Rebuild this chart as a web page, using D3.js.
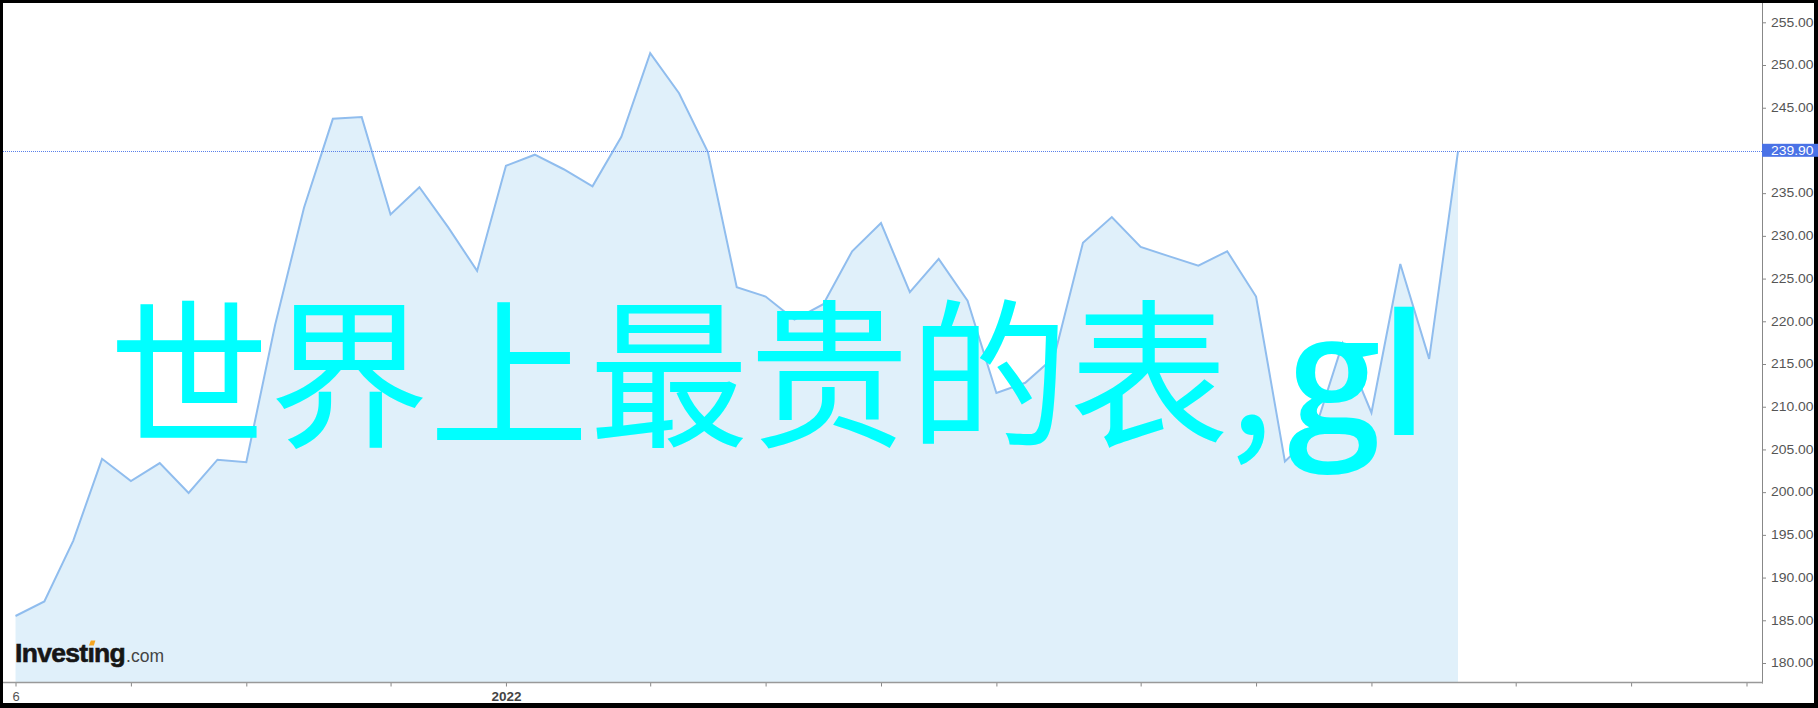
<!DOCTYPE html>
<html><head><meta charset="utf-8">
<script src="https://cdn.jsdelivr.net/npm/d3@7/dist/d3.min.js"></script>
<style>html,body{margin:0;padding:0;background:#000;overflow:hidden;} svg{display:block;}</style>
</head><body>
<script>
// ---- data (weekly closes, index 0..50) ----
const weekIndex = d3.range(51);
const closes = [
  185.5, 187.2, 194.3, 203.9, 201.3, 203.4, 199.9, 203.8, 203.5, 219.6,
  233.3, 243.7, 243.9, 232.5, 235.7, 231.0, 225.9, 238.2, 239.5, 237.8,
  235.8, 241.6, 251.4, 246.7, 239.8, 224.0, 222.9, 220.2, 222.0, 228.2,
  231.5, 223.4, 227.3, 222.4, 211.6, 212.8, 215.8, 229.2, 232.2, 228.7,
  227.6, 226.5, 228.2, 222.9, 203.6, 206.8, 217.4, 209.3, 226.7, 215.6,
  239.9
];
const xTickIndex  = [0, 4, 8, 13, 17, 22, 26, 30, 34, 39, 43, 47, 52, 56, 60];
const xTickLabels = ["6", "", "", "", "2022", "", "", "", "", "", "", "", "", "", ""];
const yTickValues = [180, 185, 190, 195, 200, 205, 210, 215, 220, 225, 230, 235, 240, 245, 250, 255];
const lastPrice = 239.90;
const overlayText = "世界上最贵的表,gl";
const brandMain = "Investıng";
const brandSuffix = ".com";

// ---- layout ----
const W = 1818, H = 708;
const plot = {left: 3, top: 3, right: 1762, bottom: 682.5};

const svg = d3.select("body").append("svg").attr("width", W).attr("height", H);
svg.append("rect").attr("width", W).attr("height", H).attr("fill", "#000");
svg.append("rect").attr("x", 3).attr("y", 3).attr("width", 1811).attr("height", 700).attr("fill", "#fff");

const x = d3.scaleLinear().domain([0, 60]).range([15.5, 1746.5]);
const y = d3.scaleLinear().domain([180, 255]).range([663, 22.3]);

svg.append("clipPath").attr("id", "plotclip").append("rect")
  .attr("x", plot.left).attr("y", plot.top)
  .attr("width", plot.right - plot.left).attr("height", plot.bottom - plot.top);

const g = svg.append("g").attr("clip-path", "url(#plotclip)");

const area = d3.area().x((d, i) => x(weekIndex[i])).y0(plot.bottom).y1(d => y(d));
const line = d3.line().x((d, i) => x(weekIndex[i])).y(d => y(d));

g.append("path").datum(closes).attr("d", area).attr("fill", "#e0f0fa");
g.append("path").datum(closes).attr("d", line).attr("fill", "none")
  .attr("stroke", "#90bdee").attr("stroke-width", 2).attr("stroke-linejoin", "miter");

// dotted last-price line
g.append("line").attr("x1", plot.left).attr("x2", plot.right)
  .attr("y1", Math.round(y(lastPrice)) + 0.5).attr("y2", Math.round(y(lastPrice)) + 0.5)
  .attr("stroke", "#5a80ea").attr("stroke-width", 1).attr("stroke-dasharray", "1,1");

// ---- right axis ----
const yAxis = d3.axisRight(y).tickValues(yTickValues).tickSize(4).tickPadding(5)
  .tickFormat(d3.format(".2f"));
const ya = svg.append("g").attr("transform", `translate(${plot.right},0)`).call(yAxis);
ya.select(".domain").remove();
ya.selectAll(".tick line").attr("stroke", "#888");
ya.selectAll(".tick text").attr("fill", "#555").attr("font-size", 12)
  .attr("font-family", "'Liberation Sans', Arial, sans-serif")
  .attr("textLength", 42.5).attr("lengthAdjust", "spacingAndGlyphs");
svg.append("line").attr("x1", plot.right + 0.5).attr("x2", plot.right + 0.5)
  .attr("y1", plot.top).attr("y2", plot.bottom + 1).attr("stroke", "#888").attr("stroke-width", 1);

// last price label
const ly = y(lastPrice);
svg.append("rect").attr("x", plot.right).attr("y", ly - 7.5).attr("width", 60).attr("height", 13)
  .attr("fill", "#4a72e6");
svg.append("text").attr("x", plot.right + 9).attr("y", ly).attr("dy", "0.33em")
  .attr("fill", "#fff").attr("font-size", 12)
  .attr("font-family", "'Liberation Sans', Arial, sans-serif")
  .attr("textLength", 42.5).attr("lengthAdjust", "spacingAndGlyphs")
  .text(d3.format(".2f")(lastPrice));

// ---- bottom axis ----
const isYear = d => /^\d{4}$/.test(xTickLabels[xTickIndex.indexOf(d)]);
const xAxis = d3.axisBottom(x).tickValues(xTickIndex).tickSize(4)
  .tickFormat((d, i) => xTickLabels[i]);
const xa = svg.append("g").attr("transform", `translate(0,${plot.bottom})`).call(xAxis);
xa.select(".domain").remove();
xa.selectAll(".tick line").attr("stroke", "#888");
xa.selectAll(".tick text").attr("dy", null).attr("y", 18.5)
  .attr("font-family", "'Liberation Sans', Arial, sans-serif")
  .attr("font-size", d => isYear(d) ? 13.5 : 13)
  .attr("font-weight", d => isYear(d) ? "bold" : "normal")
  .attr("fill", d => isYear(d) ? "#444" : "#555");
svg.append("line").attr("x1", plot.left).attr("x2", plot.right + 1)
  .attr("y1", plot.bottom).attr("y2", plot.bottom).attr("stroke", "#999").attr("stroke-width", 1.5);

// ---- brand logo ----
const logo = svg.append("g");
const mainT = logo.append("text").attr("x", 15).attr("y", 662)
  .attr("font-family", "'Liberation Sans', Arial, sans-serif").attr("font-weight", "bold")
  .attr("font-size", 26.5).attr("letter-spacing", -0.7).attr("fill", "#161616")
  .attr("stroke", "#161616").attr("stroke-width", 0.6).text(brandMain);
const iIdx = brandMain.indexOf("ı");
const ext = mainT.node().getExtentOfChar(iIdx);
logo.append("path")
  .attr("d", `M${ext.x + 1.5},${ext.y + 7.5} L${ext.x + 6.5},${ext.y + 7.5} L${ext.x + 8},${ext.y + 2.5} L${ext.x + 3.5},${ext.y + 2.5} Z`)
  .attr("fill", "#f5a623");
const mainLen = mainT.node().getComputedTextLength();
logo.append("text").attr("x", 15 + mainLen + 1).attr("y", 662)
  .attr("font-family", "'Liberation Sans', Arial, sans-serif")
  .attr("font-size", 17.5).attr("fill", "#444").text(brandSuffix);

// ---- overlay text ----
const parts = overlayText.match(/^(.*?,)(.*)$/);
const ov = svg.append("text").attr("x", 109).attr("y", 435).attr("fill", "#00ffff");
ov.append("tspan").attr("font-family", "'Noto Sans CJK SC', sans-serif").attr("font-size", 160)
  .text(parts[1]);
ov.append("tspan").attr("font-family", "'Open Sans', sans-serif").attr("font-weight", 600)
  .attr("font-size", 168).attr("dx", 14).text(parts[2]);
</script>
</body></html>
